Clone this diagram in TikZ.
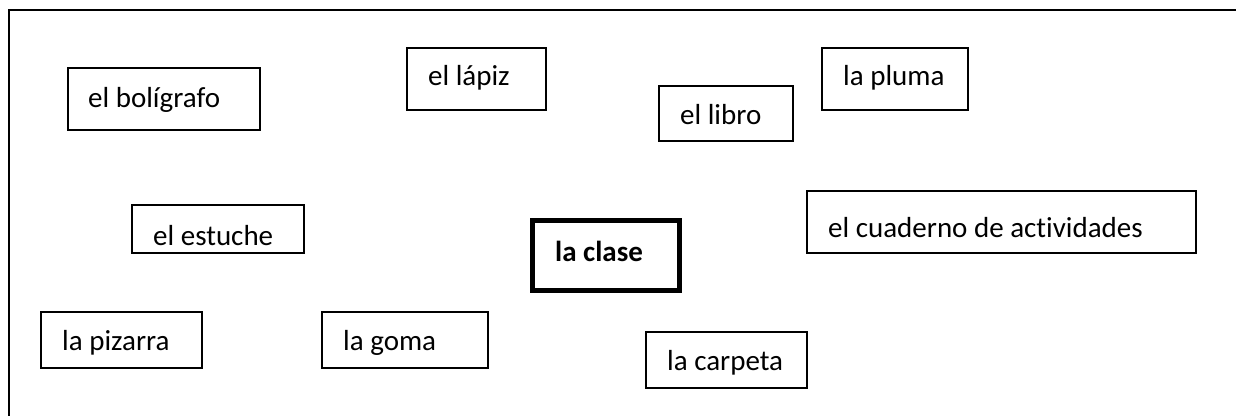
\documentclass[tikz,border=0pt]{standalone}
\usepackage{fontspec}
\setmainfont{Carlito}[Ligatures=NoCommon]
\begin{document}
\begin{tikzpicture}[x=1pt,y=-1pt,
  frame/.style={draw, line width=2pt},
  wordbox/.style={draw, line width=1.3pt, rectangle, inner sep=0pt},
  mainbox/.style={draw, line width=5pt, rectangle, inner sep=0pt},
  lbl/.style={anchor=base west, inner sep=0pt, font=\fontsize{29}{34}\selectfont},
  mainlbl/.style={anchor=base west, inner sep=0pt, font=\fontsize{29}{34}\selectfont\bfseries}]
\useasboundingbox (0,0) rectangle (1236,415);
\clip (0,0) rectangle (1236,415);
\fill[white] (0,0) rectangle (1236,415);
\draw[frame] (9,10) rectangle (1260,440);
% boxes
\node[wordbox, minimum width=192pt, minimum height=62pt] (bboli) at (164,99) {};
\node[lbl] (tboli) at (88,107) {el bolígrafo};
\node[wordbox, minimum width=139pt, minimum height=62pt] (blapiz) at (476.5,79) {};
\node[lbl] (tlapiz) at (428,85) {el lápiz};
\node[wordbox, minimum width=134pt, minimum height=55pt] (blibro) at (726,113.5) {};
\node[lbl] (tlibro) at (680,124) {el libro};
\node[wordbox, minimum width=146pt, minimum height=62pt] (bpluma) at (895,79) {};
\node[lbl] (tpluma) at (843,85) {la pluma};
\node[wordbox, minimum width=172pt, minimum height=48pt] (bestuche) at (218,229) {};
\node[lbl] (testuche) at (153,245) {el estuche};
\node[mainbox, minimum width=147pt, minimum height=70pt] (bclase) at (606,255) {};
\node[mainlbl] (tclase) at (555,261) {la clase};
\node[wordbox, minimum width=389pt, minimum height=62pt] (bcuad) at (1001.5,222) {};
\node[lbl] (tcuad) at (828,237) {el cuaderno de actividades};
\node[wordbox, minimum width=161pt, minimum height=56pt] (bpiz) at (121.5,340) {};
\node[lbl] (tpiz) at (62,350) {la pizarra};
\node[wordbox, minimum width=166pt, minimum height=56pt] (bgoma) at (405,340) {};
\node[lbl] (tgoma) at (343,350) {la goma};
\node[wordbox, minimum width=161pt, minimum height=56pt] (bcarp) at (726.5,360) {};
\node[lbl] (tcarp) at (667,370) {la carpeta};
\end{tikzpicture}
\end{document}
